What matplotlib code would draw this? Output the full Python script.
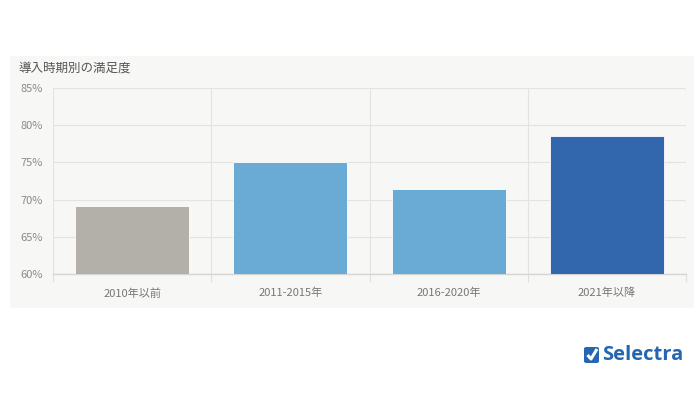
import matplotlib
matplotlib.use("Agg")
import matplotlib.pyplot as plt
from matplotlib.patches import Rectangle, FancyBboxPatch
from matplotlib.ticker import FixedLocator, PercentFormatter

plt.rcParams['font.family'] = ['Noto Sans CJK JP', 'DejaVu Sans']

# data
categories = ["2010年以前", "2011-2015年", "2016-2020年", "2021年以降"]
satisfaction = [69.1, 75.0, 71.4, 78.5]
bar_colors = ["#b3b0a9", "#6aabd6", "#6aabd6", "#3266ad"]
title = "導入時期別の満足度"

W, H = 700, 400
fig = plt.figure(figsize=(7, 4), dpi=100)
fig.patch.set_facecolor("white")


def px(x0, y0, x1, y1):
    """pixel box (top-left origin) -> figure fraction rect"""
    return [x0 / W, 1 - y1 / H, (x1 - x0) / W, (y1 - y0) / H]


# grey panel behind the chart
r = px(10, 56, 694, 308)
fig.patches.append(Rectangle((r[0], r[1]), r[2], r[3], transform=fig.transFigure,
                             facecolor="#f7f7f5", edgecolor="none", zorder=-5))

ax = fig.add_axes(px(53, 88, 686, 274))
ax.set_facecolor("none")
ax.set_zorder(2)

x = range(len(categories))
ax.bar(x, satisfaction, width=0.72, bottom=0, color=bar_colors,
       edgecolor="#ffffff", linewidth=0.6, zorder=3)

ax.set_ylim(60, 85)
ax.set_xlim(-0.5, len(categories) - 0.5)
ax.yaxis.set_major_locator(FixedLocator([60, 65, 70, 75, 80, 85]))
ax.yaxis.set_major_formatter(PercentFormatter(decimals=0))
ax.set_xticks(list(x))
ax.set_xticklabels(categories)
ax.set_xticks([i - 0.5 for i in range(len(categories) + 1)], minor=True)

ax.grid(axis="y", color="#e3e3e1", linewidth=0.8, zorder=0)
ax.grid(axis="x", which="minor", color="#e3e3e1", linewidth=0.8, zorder=0)

for side in ["top", "right", "left"]:
    ax.spines[side].set_visible(False)
ax.spines["bottom"].set_color("#d5d5d3")
ax.spines["bottom"].set_linewidth(1.0)

ax.tick_params(axis="y", length=0, pad=7, labelsize=8, labelcolor="#8a8a8a")
ax.tick_params(axis="x", which="major", length=0, pad=10, labelsize=8,
               labelcolor="#777777")
ax.tick_params(axis="x", which="minor", length=6, color="#e0e0de", width=0.8)

fig.text(18 / W, 1 - 68 / H, title, fontsize=9, color="#555555",
         ha="left", va="center")

# Selectra logo
box = px(584, 347, 599, 363)
fig.patches.append(FancyBboxPatch((box[0], box[1]), box[2], box[3],
                                  boxstyle="round,pad=0,rounding_size=0.004",
                                  transform=fig.transFigure,
                                  facecolor="#2566b0", edgecolor="none"))
fig.lines.append(plt.Line2D([587.5 / W, 591 / W, 597 / W],
                            [1 - 355 / H, 1 - 359 / H, 1 - 349 / H],
                            transform=fig.transFigure, color="white",
                            linewidth=2.2, solid_capstyle="butt"))
fig.text(602 / W, 1 - 355.5 / H, "Selectra", fontsize=14.5, fontweight="bold",
         color="#2566b0", ha="left", va="center", family=["Open Sans", "DejaVu Sans"])

fig.savefig("out.png", dpi=100)
